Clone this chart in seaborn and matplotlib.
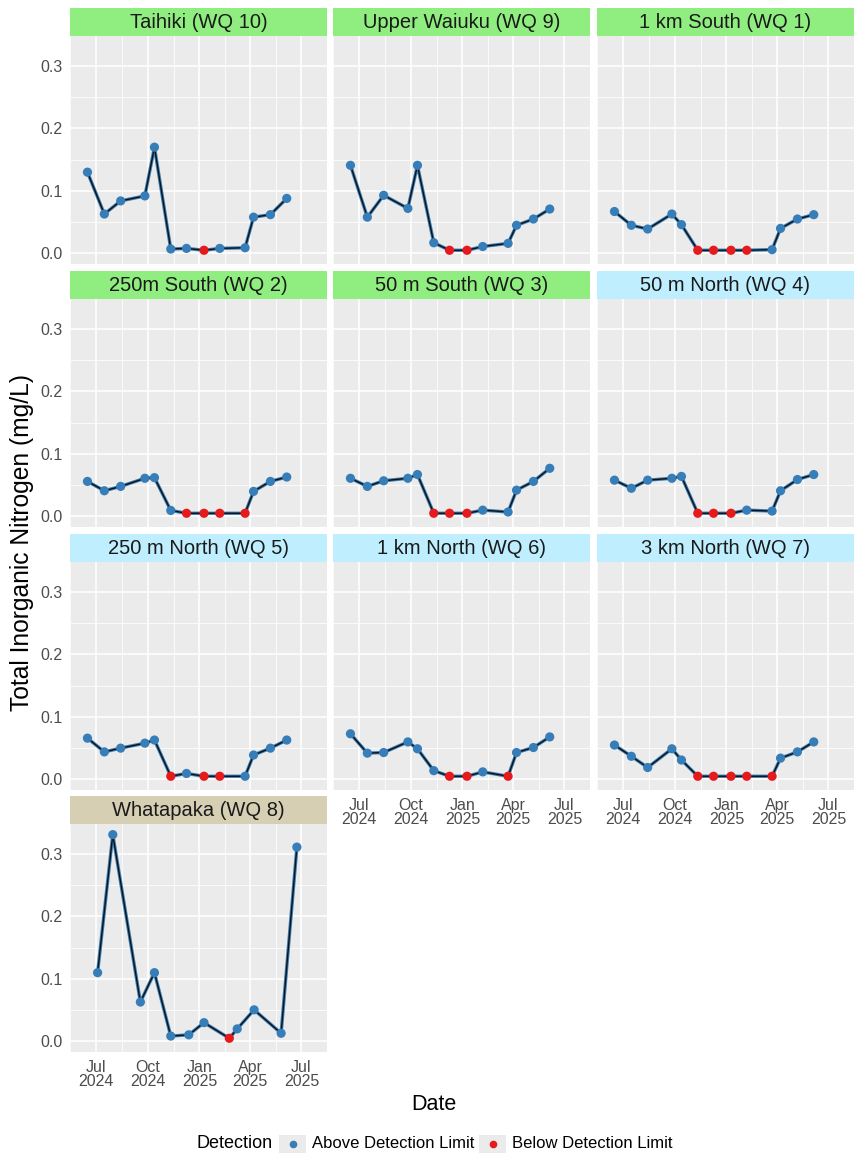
import matplotlib
matplotlib.use("Agg")
import numpy as np
import pandas as pd
import seaborn as sns
import matplotlib.pyplot as plt
import matplotlib.dates as mdates
from matplotlib.patches import Rectangle
from matplotlib.lines import Line2D

# ---------------- data ----------------
dates_main = ["2024-06-16", "2024-07-16", "2024-08-14", "2024-09-26", "2024-10-13",
              "2024-11-11", "2024-12-09", "2025-01-09", "2025-02-06", "2025-03-23",
              "2025-04-07", "2025-05-07", "2025-06-05"]
dates_whatapaka = ["2024-07-04", "2024-07-31", "2024-09-18", "2024-10-13", "2024-11-11",
                   "2024-12-13", "2025-01-09", "2025-02-23", "2025-03-09", "2025-04-08",
                   "2025-05-26", "2025-06-23"]

sites = ["Taihiki (WQ 10)", "Upper Waiuku (WQ 9)", "1 km South (WQ 1)",
         "250m South (WQ 2)", "50 m South (WQ 3)", "50 m North (WQ 4)",
         "250 m North (WQ 5)", "1 km North (WQ 6)", "3 km North (WQ 7)",
         "Whatapaka (WQ 8)"]

taihiki      = [0.130, 0.063, 0.084, 0.092, 0.170, 0.007, 0.008, 0.005, 0.008, 0.009, 0.058, 0.062, 0.088]
upper_waiuku = [0.141, 0.058, 0.093, 0.072, 0.141, 0.017, 0.005, 0.005, 0.011, 0.016, 0.045, 0.055, 0.071]
km1_south    = [0.067, 0.045, 0.039, 0.063, 0.046, 0.005, 0.005, 0.005, 0.005, 0.006, 0.040, 0.055, 0.062]
m250_south   = [0.056, 0.041, 0.048, 0.061, 0.062, 0.0095, 0.005, 0.005, 0.005, 0.005, 0.040, 0.056, 0.063]
m50_south    = [0.061, 0.048, 0.057, 0.061, 0.067, 0.005, 0.005, 0.005, 0.010, 0.007, 0.042, 0.056, 0.077]
m50_north    = [0.058, 0.045, 0.058, 0.061, 0.064, 0.005, 0.005, 0.005, 0.010, 0.0085, 0.041, 0.059, 0.067]
m250_north   = [0.066, 0.044, 0.050, 0.058, 0.063, 0.005, 0.0095, 0.005, 0.005, 0.005, 0.039, 0.050, 0.063]
km1_north    = [0.073, 0.042, 0.043, 0.060, 0.049, 0.014, 0.005, 0.005, 0.012, 0.005, 0.043, 0.051, 0.068]
km3_north    = [0.055, 0.037, 0.019, 0.049, 0.031, 0.005, 0.005, 0.005, 0.005, 0.005, 0.034, 0.044, 0.060]
whatapaka    = [0.110, 0.331, 0.063, 0.110, 0.0085, 0.0105, 0.030, 0.005, 0.020, 0.0505, 0.013, 0.311]

# 1 = below detection limit
bdl_taihiki      = [0, 0, 0, 0, 0, 0, 0, 1, 0, 0, 0, 0, 0]
bdl_upper_waiuku = [0, 0, 0, 0, 0, 0, 1, 1, 0, 0, 0, 0, 0]
bdl_km1_south    = [0, 0, 0, 0, 0, 1, 1, 1, 1, 0, 0, 0, 0]
bdl_m250_south   = [0, 0, 0, 0, 0, 0, 1, 1, 1, 1, 0, 0, 0]
bdl_m50_south    = [0, 0, 0, 0, 0, 1, 1, 1, 0, 0, 0, 0, 0]
bdl_m50_north    = [0, 0, 0, 0, 0, 1, 1, 1, 0, 0, 0, 0, 0]
bdl_m250_north   = [0, 0, 0, 0, 0, 1, 0, 1, 1, 0, 0, 0, 0]
bdl_km1_north    = [0, 0, 0, 0, 0, 0, 1, 1, 0, 1, 0, 0, 0]
bdl_km3_north    = [0, 0, 0, 0, 0, 1, 1, 1, 1, 1, 0, 0, 0]
bdl_whatapaka    = [0, 0, 0, 0, 0, 0, 0, 1, 0, 0, 0, 0]

values = [taihiki, upper_waiuku, km1_south, m250_south, m50_south, m50_north,
          m250_north, km1_north, km3_north, whatapaka]
flags = [bdl_taihiki, bdl_upper_waiuku, bdl_km1_south, bdl_m250_south, bdl_m50_south,
         bdl_m50_north, bdl_m250_north, bdl_km1_north, bdl_km3_north, bdl_whatapaka]
strip_groups = ["south"] * 5 + ["north"] * 4 + ["other"]
strip_palette = {"south": "#90EE80", "north": "#BFEFFF", "other": "#D6CFB4"}

detect_labels = ["Above Detection Limit", "Below Detection Limit"]
det_palette = {"Above Detection Limit": "#377EB8", "Below Detection Limit": "#E41A1C"}

rows = []
for s, v, f in zip(sites, values, flags):
    d = dates_whatapaka if s.startswith("Whatapaka") else dates_main
    for di, vi, fi in zip(d, v, f):
        rows.append({"Site": s, "Date": pd.Timestamp(di), "TIN": vi,
                     "Detection": detect_labels[fi]})
df = pd.DataFrame(rows)

# ---------------- style ----------------
sns.set_theme(style="darkgrid")
plt.rcParams["font.family"] = ["Liberation Sans", "DejaVu Sans"]
plt.rcParams["axes.facecolor"] = "#EBEBEB"

W, H = 868, 1156
fig = plt.figure(figsize=(W / 100, H / 100), dpi=100)

col_x = [70, 333, 597]
panel_w = 257
row_top = [36, 299, 562, 824]
panel_h = 228
strip_h = 28

xmin = pd.Timestamp("2024-05-29")
xmax = pd.Timestamp("2025-07-11")
major_dates = pd.to_datetime(["2024-07-01", "2024-10-01", "2025-01-01", "2025-04-01", "2025-07-01"])
major_num = mdates.date2num(major_dates)
minor_num = list((major_num[:-1] + major_num[1:]) / 2)
minor_num = [major_num[0] - (major_num[1] - major_num[0]) / 2] + minor_num + \
            [major_num[-1] + (major_num[-1] - major_num[-2]) / 2]

tick_col = "#4D4D4D"

for i, site in enumerate(sites):
    r, c = divmod(i, 3)
    x0 = col_x[c]
    top = row_top[r]
    ax = fig.add_axes([x0 / W, 1 - (top + panel_h) / H, panel_w / W, panel_h / H])
    sub = df[df["Site"] == site].sort_values("Date")
    sns.lineplot(data=sub, x="Date", y="TIN", ax=ax, color="#377EB8", lw=2.4,
                 estimator=None, sort=True, zorder=3)
    sns.lineplot(data=sub, x="Date", y="TIN", ax=ax, color="#111111", lw=1.0,
                 estimator=None, sort=True, zorder=4)
    sns.scatterplot(data=sub, x="Date", y="TIN", hue="Detection", palette=det_palette,
                    ax=ax, s=44, edgecolor="none", legend=False, zorder=5)
    ax.set_xlim(xmin, xmax)
    ax.set_ylim(-0.017, 0.348)
    ax.set_facecolor("#EBEBEB")
    ax.set_xticks(major_num)
    ax.set_xticks(minor_num, minor=True)
    ax.set_yticks([0.0, 0.1, 0.2, 0.3])
    ax.set_yticks([0.05, 0.15, 0.25], minor=True)
    ax.grid(which="major", color="white", lw=1.1)
    ax.grid(which="minor", color="white", lw=0.55)
    ax.set_axisbelow(True)
    for sp in ax.spines.values():
        sp.set_visible(False)
    ax.set_xlabel("")
    ax.set_ylabel("")

    bottom_of_col = (c == 0 and i == 9) or (c > 0 and r == 2)
    ax.tick_params(axis="both", which="minor", length=0)
    if bottom_of_col:
        ax.set_xticklabels([d.strftime("%b\n%Y") for d in major_dates])
        ax.tick_params(axis="x", which="major", length=3.5, width=0.8, color="#333333",
                       labelsize=11.5, labelcolor=tick_col, pad=2)
        for t in ax.get_xticklabels():
            t.set_linespacing(0.95)
    else:
        ax.tick_params(axis="x", which="major", length=0, labelbottom=False)
    if c == 0:
        ax.set_yticklabels(["0.0", "0.1", "0.2", "0.3"])
        ax.tick_params(axis="y", which="major", length=3.5, width=0.8, color="#333333",
                       labelsize=11.5, labelcolor=tick_col, pad=2)
    else:
        ax.tick_params(axis="y", which="major", length=0, labelleft=False)

    # strip
    sax = fig.add_axes([x0 / W, 1 - top / H, panel_w / W, strip_h / H])
    sax.set_facecolor(strip_palette[strip_groups[i]])
    sax.set_xticks([])
    sax.set_yticks([])
    sax.grid(False)
    for sp in sax.spines.values():
        sp.set_visible(False)
    sax.text(0.5, 0.47, site, ha="center", va="center", fontsize=14.5, color="#1A1A1A",
             transform=sax.transAxes)

# axis titles
fig.text(22 / W, 1 - 543 / H, "Total Inorganic Nitrogen (mg/L)", rotation=90,
         ha="center", va="center", fontsize=17.7, color="black")
fig.text(434 / W, 1 - 1104 / H, "Date", ha="center", va="center", fontsize=15.5,
         color="black")

# legend
ly = 1 - 1144 / H
fig.text(197 / W, ly, "Detection", ha="left", va="center", fontsize=13, color="black")
key_x = [279, 479]
for kx, lab in zip(key_x, detect_labels):
    fig.add_artist(Rectangle((kx / W, 1 - 1153 / H), 27 / W, 18 / H,
                             transform=fig.transFigure, facecolor="#EBEBEB",
                             edgecolor="none"))
    fig.add_artist(Line2D([(kx + 13.5) / W], [ly], marker="o", markersize=5.5,
                          color=det_palette[lab], markeredgewidth=0,
                          transform=fig.transFigure))
    fig.text((kx + 33) / W, ly, lab, ha="left", va="center", fontsize=12, color="black")

fig.savefig("out.png", dpi=100, facecolor="white")
